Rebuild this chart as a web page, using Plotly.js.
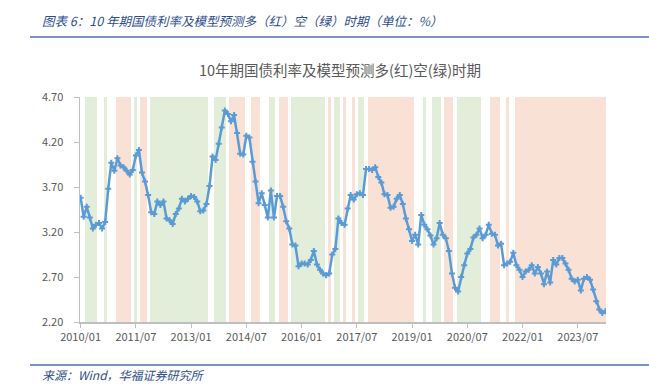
<!DOCTYPE html>
<html>
<head>
<meta charset="utf-8">
<script src="https://cdn.plot.ly/plotly-3.0.1.min.js"></script>
<style>html,body{margin:0;padding:0;background:#fff;}#chart{width:649px;height:385px;}</style>
</head>
<body>
<div id="chart"></div>
<script>
// ---- data ----
const startYear = 2010, startMonth = 1, monthCount = 172; // 2010/01 .. 2024/04
const yields = [
  3.58,3.37,3.48,3.36,3.24,3.28,3.30,3.24,3.31,3.68,3.97,3.88,
  4.02,3.94,3.92,3.88,3.84,3.89,4.05,4.11,3.86,3.76,3.61,3.42,
  3.40,3.54,3.50,3.54,3.35,3.33,3.29,3.40,3.46,3.57,3.54,3.57,
  3.60,3.59,3.54,3.43,3.44,3.51,3.71,4.04,4.00,4.18,4.36,4.55,
  4.51,4.43,4.50,4.30,4.07,4.06,4.27,4.25,3.98,3.76,3.52,3.63,
  3.50,3.36,3.66,3.36,3.60,3.60,3.48,3.32,3.24,3.06,3.05,2.82,
  2.85,2.85,2.84,2.89,2.99,2.84,2.78,2.74,2.72,2.74,2.95,3.01,
  3.35,3.30,3.28,3.46,3.61,3.56,3.62,3.63,3.61,3.90,3.90,3.89,
  3.92,3.81,3.75,3.62,3.61,3.47,3.48,3.57,3.61,3.51,3.35,3.23,
  3.10,3.17,3.06,3.39,3.28,3.23,3.16,3.06,3.13,3.30,3.17,3.13,
  2.99,2.74,2.58,2.54,2.70,2.83,2.96,3.01,3.14,3.17,3.24,3.13,
  3.17,3.28,3.18,3.17,3.05,3.07,2.83,2.85,2.87,2.97,2.83,2.78,
  2.70,2.76,2.78,2.83,2.74,2.81,2.74,2.62,2.76,2.64,2.89,2.84,
  2.91,2.91,2.85,2.78,2.68,2.65,2.67,2.55,2.68,2.70,2.67,2.56,
  2.43,2.34,2.30,2.32
];
// model "long" (red) periods and "short" (green) periods, [first month, last month]
const longPeriods = [
  ['2011/01','2011/05'],['2011/09','2011/10'],['2014/02','2014/06'],['2014/09','2014/11'],
  ['2015/06','2015/08'],['2016/10','2016/10'],['2017/03','2017/03'],['2017/06','2017/06'],
  ['2017/11','2019/01'],['2019/12','2020/02'],['2021/03','2021/05'],['2021/08','2021/08'],
  ['2021/11','2024/04']
];
const shortPeriods = [
  ['2010/03','2010/06'],['2010/09','2010/09'],['2011/07','2011/07'],['2011/12','2013/06'],
  ['2013/09','2013/12'],['2015/03','2015/04'],['2015/10','2016/08'],['2016/12','2017/01'],
  ['2017/08','2017/09'],['2019/05','2019/05'],['2019/08','2019/10'],['2020/04','2020/11']
];
const tickLabels = ['2010/01','2011/07','2013/01','2014/07','2016/01','2017/07','2019/01','2020/07','2022/01','2023/07'];
const yTicks = [2.20,2.70,3.20,3.70,4.20,4.70];

// ---- build ----
const months = [];
for (let i = 0; i < monthCount; i++) {
  const m0 = startMonth - 1 + i;
  const y = startYear + Math.floor(m0 / 12);
  const m = (m0 % 12) + 1;
  months.push(y + '/' + (m < 10 ? '0' + m : m));
}
function periodBars(periods) {
  const xs = [], ys = [];
  periods.forEach(p => {
    const a = months.indexOf(p[0]), b = months.indexOf(p[1]);
    for (let i = a; i <= b; i++) { xs.push(months[i]); ys.push(yTicks[yTicks.length - 1]); }
  });
  return {xs, ys};
}
const red = periodBars(longPeriods), green = periodBars(shortPeriods);

const W = 649, H = 385, L = 80, R = 606, T = 97, B = 322;
const px = x => (x - L) / (R - L);
const py = y => (B - y) / (B - T);

const traces = [
  {type:'bar', x:red.xs, y:red.ys, width:1, marker:{color:'#F9E2D5', line:{width:0}}, hoverinfo:'skip', showlegend:false},
  {type:'bar', x:green.xs, y:green.ys, width:1, marker:{color:'#E2EED9', line:{width:0}}, hoverinfo:'skip', showlegend:false},
  {type:'scatter', mode:'lines+markers', x:months, y:yields,
   line:{color:'#5B9BD5', width:2.5},
   marker:{symbol:'cross', size:5, color:'#5B9BD5'}, showlegend:false}
];

const lineColor = '#4C6FA8';
const layout = {
  width: W, height: H,
  margin: {l: L, r: W - R, t: T, b: H - B, pad: 0},
  paper_bgcolor: '#fff', plot_bgcolor: '#fff',
  barmode: 'overlay', bargap: 0,
  font: {family: '"Noto Sans CJK SC", "Noto Sans", sans-serif', color: '#595959', size: 11},
  title: {text: '10年期国债利率及模型预测多(红)空(绿)时期', x: 340 / W, xref: 'container', xanchor: 'center',
          y: 1 - 71 / H, yref: 'container', yanchor: 'middle',
          font: {family: '"Noto Sans CJK SC", sans-serif', size: 14.5, color: '#595959'}},
  xaxis: {type: 'category', categoryorder: 'array', categoryarray: months,
          range: [-0.2, monthCount - 0.8], tickmode: 'array', tickvals: tickLabels, ticktext: tickLabels,
          showgrid: false, zeroline: false, showline: true, linecolor: '#BFBFBF', linewidth: 1.5,
          ticks: 'outside', ticklen: 4, tickcolor: '#BFBFBF', tickfont: {size: 11, color: '#595959'}, fixedrange: true},
  yaxis: {range: [yTicks[0], yTicks[yTicks.length - 1]], tickmode: 'array', tickvals: yTicks,
          ticktext: yTicks.map(v => v.toFixed(2)),
          showgrid: false, zeroline: false, showline: true, linecolor: '#BFBFBF', linewidth: 1.5,
          ticks: 'outside', ticklen: 5, tickcolor: '#BFBFBF', ticklabelstandoff: 8, tickfont: {size: 11, color: '#595959'}, fixedrange: true},
  shapes: [
    {type: 'line', xref: 'paper', yref: 'paper', x0: px(30), x1: px(649), y0: py(37), y1: py(37), line: {color: lineColor, width: 1.5}},
    {type: 'line', xref: 'paper', yref: 'paper', x0: px(30), x1: px(649), y0: py(365), y1: py(365), line: {color: lineColor, width: 1.5}}
  ],
  annotations: [
    {text: '<i>图表 6：10 年期国债利率及模型预测多（红）空（绿）时期（单位：%）</i>', xref: 'paper', yref: 'paper',
     x: px(40), y: py(20), xanchor: 'left', yanchor: 'middle', showarrow: false,
     font: {family: '"Noto Sans CJK SC", sans-serif', size: 12.5, color: '#2D4E8C'}},
    {text: '<i>来源：Wind，华福证券研究所</i>', xref: 'paper', yref: 'paper',
     x: px(40), y: py(374), xanchor: 'left', yanchor: 'middle', showarrow: false,
     font: {family: '"Noto Sans CJK SC", sans-serif', size: 12, color: '#2D4E8C'}}
  ]
};
Plotly.newPlot('chart', traces, layout, {displayModeBar: false, staticPlot: true});
</script>
</body>
</html>
